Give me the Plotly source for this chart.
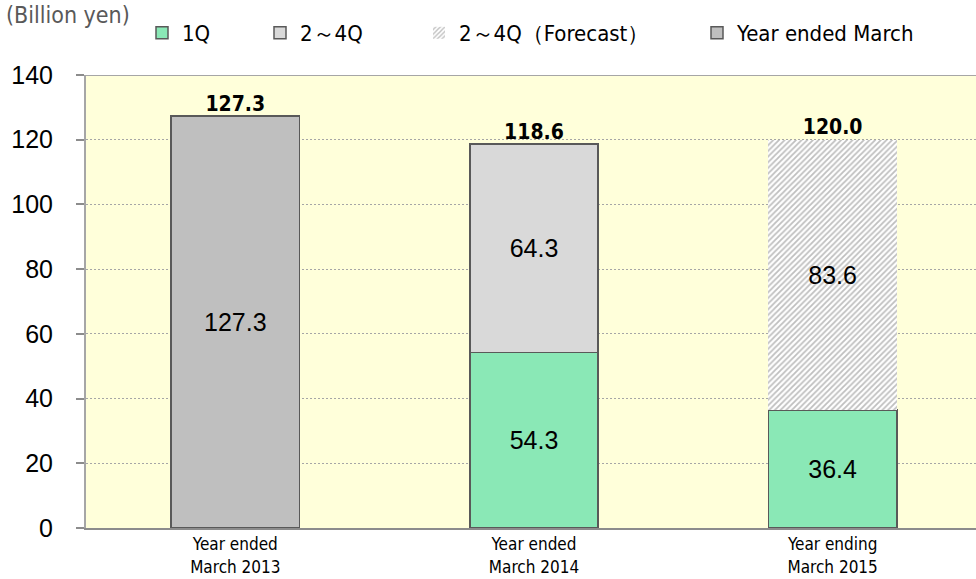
import plotly.graph_objects as go

# Fiscal-year categories (two-line tick labels)
categories = ["Year ended<br>March 2013", "Year ended<br>March 2014", "Year ending<br>March 2015"]

# Values in billion yen
q1 = [None, 54.3, 36.4]
q2_4 = [None, 64.3, None]
q2_4_forecast = [None, None, 83.6]
full_year = [127.3, None, None]
totals = [127.3, 118.6, 120.0]

BAR_W = 0.43
EDGE = dict(color="#595959", width=1.5)
ARIAL = "Arial, Liberation Sans, sans-serif"
NARROW = "Liberation Sans Narrow, DejaVu Sans Condensed, Arial Narrow, sans-serif"
LABEL_FONT = dict(family=ARIAL, size=25, color="#000000")

# plot area in pixels, used to place the legends in paper units
PLOT_L, PLOT_W = 86, 890


def px_to_paper(px):
    return (px - PLOT_L) / PLOT_W


def fmt(vals):
    return [None if v is None else f"{v:.1f}" for v in vals]


fig = go.Figure()

fig.add_trace(go.Bar(
    name="1Q", x=categories, y=q1, width=BAR_W, legend="legend",
    marker=dict(color="#8AE8B6", line=EDGE),
    text=fmt(q1), textposition="inside", insidetextanchor="middle", textfont=LABEL_FONT,
))
fig.add_trace(go.Bar(
    name="2～4Q", x=categories, y=q2_4, width=BAR_W, legend="legend2",
    marker=dict(color="#D9D9D9", line=EDGE),
    text=fmt(q2_4), textposition="inside", insidetextanchor="middle", textfont=LABEL_FONT,
))
fig.add_trace(go.Bar(
    name="2～4Q（Forecast）", x=categories, y=q2_4_forecast, width=BAR_W, legend="legend3",
    marker=dict(color="#FFFFFF", line=dict(width=0),
                pattern=dict(shape="/", fgcolor="#7F7F7F", bgcolor="#FFFFFF",
                             size=4, solidity=0.45)),
    text=fmt(q2_4_forecast), textposition="inside", insidetextanchor="middle", textfont=LABEL_FONT,
))
fig.add_trace(go.Bar(
    name="Year ended March", x=categories, y=full_year, width=BAR_W, legend="legend4",
    marker=dict(color="#BFBFBF", line=EDGE),
    text=fmt(full_year), textposition="inside", insidetextanchor="middle", textfont=LABEL_FONT,
))

# Totals above each stack
fig.add_trace(go.Scatter(
    x=categories, y=totals, mode="text",
    text=[f"<b>{v:.1f}</b>" for v in totals],
    textposition="top center",
    textfont=dict(family=NARROW, size=21, color="#000000"),
    showlegend=False, hoverinfo="skip",
))

LEG_Y = 1 + 42 / 453


def legend_at(px):
    return dict(
        orientation="h", x=px_to_paper(px), y=LEG_Y, xanchor="left", yanchor="middle",
        font=dict(family=NARROW, size=22, color="#000000"),
        bgcolor="rgba(0,0,0,0)", itemwidth=30,
    )


fig.update_layout(
    width=976, height=579,
    barmode="stack",
    plot_bgcolor="#FFFFDA",
    paper_bgcolor="#FFFFFF",
    margin=dict(l=PLOT_L, r=0, t=75, b=51, autoexpand=False),
    showlegend=True,
    legend=legend_at(142),
    legend2=legend_at(260),
    legend3=legend_at(419),
    legend4=legend_at(697),
    annotations=[dict(
        text="(Billion yen)", xref="paper", yref="paper",
        x=px_to_paper(4), y=1 + 60 / 453, xanchor="left", yanchor="middle",
        showarrow=False,
        font=dict(family=NARROW, size=23, color="#595959"),
    )],
    shapes=[dict(
        type="line", xref="paper", yref="y", x0=0, x1=1, y0=140, y1=140,
        line=dict(color="#A6A6A6", width=2),
    )],
)

fig.update_xaxes(
    range=[-0.5, 2.48],
    automargin=False,
    showline=True, linecolor="#8C8C8C", linewidth=2,
    ticks="", showgrid=False,
    ticklabelstandoff=0,
    tickfont=dict(family=NARROW, size=17, color="#000000"),
)
fig.update_yaxes(
    range=[0, 140], dtick=20,
    automargin=False,
    showline=True, linecolor="#A6A6A6", linewidth=2,
    ticks="outside", ticklen=8, tickcolor="#8C8C8C", tickwidth=2,
    ticklabelstandoff=18,
    showgrid=True, gridcolor="#A6A6A6", griddash="2px,2px", gridwidth=1,
    zeroline=False,
    tickfont=dict(family=ARIAL, size=25, color="#000000"),
)

fig.write_html("out.html")
